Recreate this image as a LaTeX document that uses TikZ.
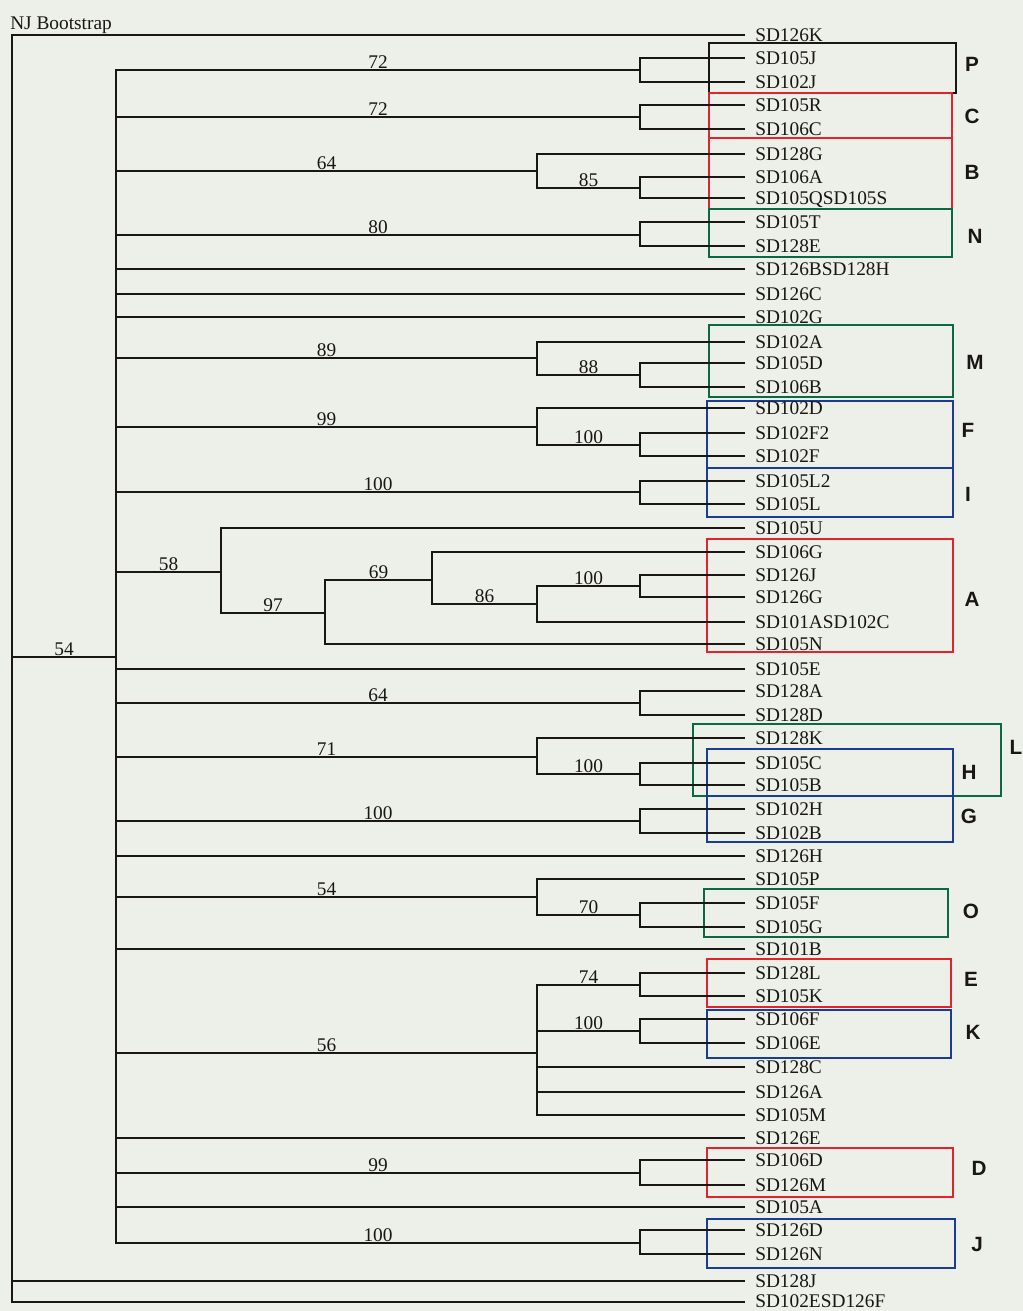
\documentclass[tikz,border=0pt]{standalone}
\usepackage{fontspec}
\setmainfont{Liberation Serif}
\newfontfamily\grpfont{Liberation Sans}
\definecolor{bgc}{RGB}{237,239,233}
\definecolor{cred}{RGB}{225,35,45}
\definecolor{cgreen}{RGB}{10,105,65}
\definecolor{cblue}{RGB}{25,60,150}
\definecolor{ink}{RGB}{25,22,20}
\tikzset{
  tree/.style={draw=ink, line width=1.9pt},
  leaf/.style={anchor=base west, inner sep=0pt, text=ink, font=\fontsize{14.5}{15}\selectfont},
  bs/.style={anchor=base, inner sep=0pt, text=ink, yshift=0.8pt, font=\fontsize{14.5}{15}\selectfont},
  grpbox/.style={draw=#1, line width=1.8pt},
  grp/.style={inner sep=0pt, text=ink, font=\grpfont\bfseries\fontsize{15.5}{16}\selectfont}
}
\begin{document}
\begin{tikzpicture}[x=0.75pt,y=-0.75pt]
\fill[bgc] (0,0) rectangle (1023,1311);
\useasboundingbox (0,0) rectangle (1023,1311);

% title
\node[anchor=base west, inner sep=0pt, text=ink, font=\fontsize{14.5}{15}\selectfont] (title) at (10,29) {NJ Bootstrap};

% group boxes
\draw[grpbox=ink] (709,43) rectangle (956,93);
\draw[grpbox=cred] (709,93) rectangle (952,138);
\draw[grpbox=cred] (709,138) rectangle (952,209);
\draw[grpbox=cgreen] (709,209) rectangle (952,257);
\draw[grpbox=cgreen] (709,325) rectangle (953,397);
\draw[grpbox=cblue] (707,401) rectangle (953,468);
\draw[grpbox=cblue] (707,468) rectangle (953,517);
\draw[grpbox=cred] (707,539) rectangle (953,652);
\draw[grpbox=cgreen] (693,724) rectangle (1001,796);
\draw[grpbox=cblue] (707,749) rectangle (953,796);
\draw[grpbox=cblue] (707,796) rectangle (953,842);
\draw[grpbox=cgreen] (704,889) rectangle (948,937);
\draw[grpbox=cred] (707,959) rectangle (951,1007);
\draw[grpbox=cblue] (707,1010) rectangle (951,1058);
\draw[grpbox=cred] (707,1148) rectangle (953,1197);
\draw[grpbox=cblue] (707,1219) rectangle (955,1268);

% group letters
\node[grp] (gP) at (972,64) {P};
\node[grp] (gC) at (972,116) {C};
\node[grp] (gB) at (972,172) {B};
\node[grp] (gN) at (975,236) {N};
\node[grp] (gM) at (975,362) {M};
\node[grp] (gF) at (968,430) {F};
\node[grp] (gI) at (968,494) {I};
\node[grp] (gA) at (972,599) {A};
\node[grp] (gL) at (1016,747) {L};
\node[grp] (gH) at (969,772) {H};
\node[grp] (gG) at (969,816) {G};
\node[grp] (gO) at (971,911) {O};
\node[grp] (gE) at (971,979) {E};
\node[grp] (gK) at (973,1032) {K};
\node[grp] (gD) at (979,1168) {D};
\node[grp] (gJ) at (977,1244) {J};

% leaves
\foreach \i/\yy/\nm in {
 1/35/SD126K, 2/58/SD105J, 3/82/SD102J, 4/105/SD105R, 5/129/SD106C,
 6/154/SD128G, 7/177/SD106A, 8/198/SD105QSD105S, 9/222/SD105T, 10/246/SD128E,
 11/269/SD126BSD128H, 12/294/SD126C, 13/317/SD102G, 14/342/SD102A, 15/363/SD105D,
 16/387/SD106B, 17/408/SD102D, 18/433/SD102F2, 19/456/SD102F, 20/481/SD105L2,
 21/504/SD105L, 22/528/SD105U, 23/552/SD106G, 24/575/SD126J, 25/597/SD126G,
 26/622/SD101ASD102C, 27/644/SD105N, 28/669/SD105E, 29/691/SD128A, 30/715/SD128D,
 31/738/SD128K, 32/763/SD105C, 33/785/SD105B, 34/809/SD102H, 35/833/SD102B,
 36/856/SD126H, 37/879/SD105P, 38/903/SD105F, 39/927/SD105G, 40/949/SD101B,
 41/973/SD128L, 42/996/SD105K, 43/1019/SD106F, 44/1043/SD106E, 45/1067/SD128C,
 46/1092/SD126A, 47/1115/SD105M, 48/1138/SD126E, 49/1160/SD106D, 50/1185/SD126M,
 51/1207/SD105A, 52/1230/SD126D, 53/1254/SD126N, 54/1281/SD128J}{
  \coordinate (p\i) at (745,\yy);
  \node[leaf] (t\i) at (755,\yy+6) {\nm};
}
\coordinate (p55) at (745,1302);
\node[leaf] (t55) at (755,1307) {SD102ESD126F};

% internal nodes
\coordinate (r0) at (12,657);
\coordinate (nb) at (116,657);
\coordinate (nP) at (640,70);
\coordinate (nC) at (640,117);
\coordinate (nB) at (537,171);
\coordinate (nB2) at (640,188);
\coordinate (nN) at (640,235);
\coordinate (nM) at (537,358);
\coordinate (nM2) at (640,375);
\coordinate (nF) at (537,427);
\coordinate (nF2) at (640,445);
\coordinate (nI) at (640,492);
\coordinate (n58) at (221,572);
\coordinate (n97) at (325,613);
\coordinate (n69) at (432,580);
\coordinate (n86) at (537,604);
\coordinate (nA1) at (640,586);
\coordinate (n64) at (640,703);
\coordinate (n71) at (537,757);
\coordinate (nH) at (640,774);
\coordinate (nG) at (640,821);
\coordinate (nO1) at (537,897);
\coordinate (nO) at (640,915);
\coordinate (n56) at (537,1053);
\coordinate (nE) at (640,985);
\coordinate (nK) at (640,1031);
\coordinate (nD) at (640,1173);
\coordinate (nJ) at (640,1243);

% root
\draw[tree] (r0) |- (p1);
\draw[tree] (r0) |- node[bs, pos=0.75] (b54) {54} (nb);
\draw[tree] (r0) |- (p54);
\draw[tree] (r0) |- (p55);

% main clade
\draw[tree] (nb) |- node[bs, pos=0.75] (bP) {72} (nP);
\draw[tree] (nb) |- node[bs, pos=0.75] (bC) {72} (nC);
\draw[tree] (nb) |- node[bs, pos=0.75] (bB) {64} (nB);
\draw[tree] (nb) |- node[bs, pos=0.75] (bN) {80} (nN);
\draw[tree] (nb) |- (p11);
\draw[tree] (nb) |- (p12);
\draw[tree] (nb) |- (p13);
\draw[tree] (nb) |- node[bs, pos=0.75] (bM) {89} (nM);
\draw[tree] (nb) |- node[bs, pos=0.75] (bF) {99} (nF);
\draw[tree] (nb) |- node[bs, pos=0.75] (bI) {100} (nI);
\draw[tree] (nb) |- node[bs, pos=0.75] (b58) {58} (n58);
\draw[tree] (nb) |- (p28);
\draw[tree] (nb) |- node[bs, pos=0.75] (b64) {64} (n64);
\draw[tree] (nb) |- node[bs, pos=0.75] (b71) {71} (n71);
\draw[tree] (nb) |- node[bs, pos=0.75] (bG) {100} (nG);
\draw[tree] (nb) |- (p36);
\draw[tree] (nb) |- node[bs, pos=0.75] (bO1) {54} (nO1);
\draw[tree] (nb) |- (p40);
\draw[tree] (nb) |- node[bs, pos=0.75] (b56) {56} (n56);
\draw[tree] (nb) |- (p48);
\draw[tree] (nb) |- node[bs, pos=0.75] (bD) {99} (nD);
\draw[tree] (nb) |- (p51);
\draw[tree] (nb) |- node[bs, pos=0.75] (bJ) {100} (nJ);

% sub clades
\draw[tree] (nP) |- (p2);  \draw[tree] (nP) |- (p3);
\draw[tree] (nC) |- (p4);  \draw[tree] (nC) |- (p5);
\draw[tree] (nB) |- (p6);
\draw[tree] (nB) |- node[bs, pos=0.75] (bB2) {85} (nB2);
\draw[tree] (nB2) |- (p7); \draw[tree] (nB2) |- (p8);
\draw[tree] (nN) |- (p9);  \draw[tree] (nN) |- (p10);
\draw[tree] (nM) |- (p14);
\draw[tree] (nM) |- node[bs, pos=0.75] (bM2) {88} (nM2);
\draw[tree] (nM2) |- (p15); \draw[tree] (nM2) |- (p16);
\draw[tree] (nF) |- (p17);
\draw[tree] (nF) |- node[bs, pos=0.75] (bF2) {100} (nF2);
\draw[tree] (nF2) |- (p18); \draw[tree] (nF2) |- (p19);
\draw[tree] (nI) |- (p20); \draw[tree] (nI) |- (p21);
\draw[tree] (n58) |- (p22);
\draw[tree] (n58) |- node[bs, pos=0.75] (b97) {97} (n97);
\draw[tree] (n97) |- node[bs, pos=0.75] (b69) {69} (n69);
\draw[tree] (n97) |- (p27);
\draw[tree] (n69) |- (p23);
\draw[tree] (n69) |- node[bs, pos=0.75] (b86) {86} (n86);
\draw[tree] (n86) |- node[bs, pos=0.75] (bA1) {100} (nA1);
\draw[tree] (n86) |- (p26);
\draw[tree] (nA1) |- (p24); \draw[tree] (nA1) |- (p25);
\draw[tree] (n64) |- (p29); \draw[tree] (n64) |- (p30);
\draw[tree] (n71) |- (p31);
\draw[tree] (n71) |- node[bs, pos=0.75] (bH) {100} (nH);
\draw[tree] (nH) |- (p32); \draw[tree] (nH) |- (p33);
\draw[tree] (nG) |- (p34); \draw[tree] (nG) |- (p35);
\draw[tree] (nO1) |- (p37);
\draw[tree] (nO1) |- node[bs, pos=0.75] (bO) {70} (nO);
\draw[tree] (nO) |- (p38); \draw[tree] (nO) |- (p39);
\draw[tree] (n56) |- node[bs, pos=0.75] (bE) {74} (nE);
\draw[tree] (n56) |- node[bs, pos=0.75] (bK) {100} (nK);
\draw[tree] (n56) |- (p45);
\draw[tree] (n56) |- (p46);
\draw[tree] (n56) |- (p47);
\draw[tree] (nE) |- (p41); \draw[tree] (nE) |- (p42);
\draw[tree] (nK) |- (p43); \draw[tree] (nK) |- (p44);
\draw[tree] (nD) |- (p49); \draw[tree] (nD) |- (p50);
\draw[tree] (nJ) |- (p52); \draw[tree] (nJ) |- (p53);
\end{tikzpicture}
\end{document}
